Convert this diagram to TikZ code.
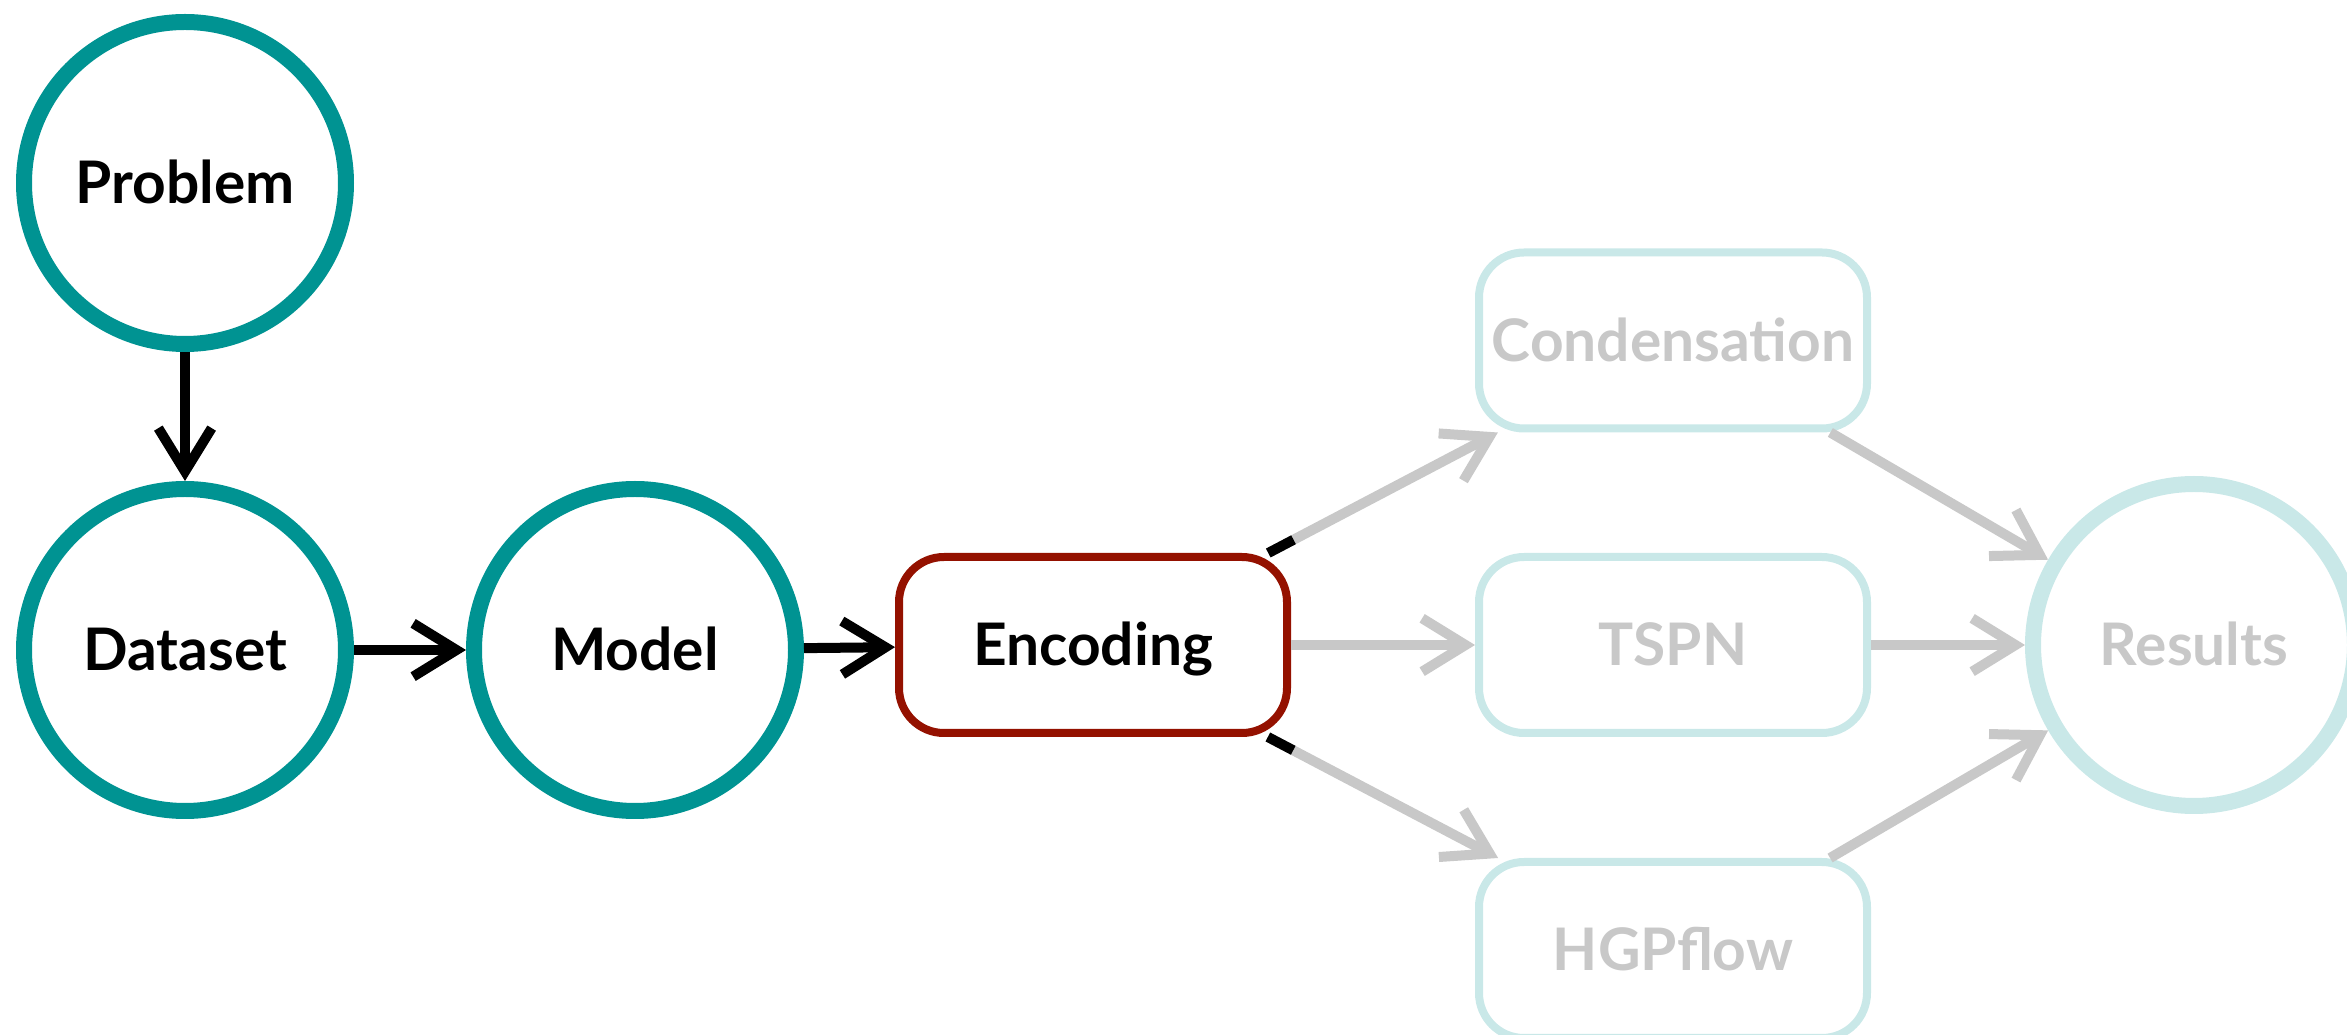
\documentclass[tikz,border=0pt]{standalone}
\usepackage{fontspec}
\setmainfont{Lato}
\usetikzlibrary{arrows.meta}
\definecolor{ringteal}{RGB}{0,147,146}
\definecolor{encred}{RGB}{148,17,0}
\definecolor{palecyan}{RGB}{201,232,232}
\definecolor{fadegray}{RGB}{200,200,200}
\begin{document}
\begin{tikzpicture}[x=0.3pt,y=-0.3pt,
  label font/.style={font=\fontsize{17.6pt}{20pt}\selectfont\bfseries, text height=12.6pt, text depth=0pt},
  stage/.style={circle, draw=ringteal, line width=4.8pt, minimum size=96.6pt,
    inner sep=0pt, fill=white, label font},
  faded stage/.style={stage, draw=palecyan, text=fadegray},
  block/.style={rectangle, rounded corners=13.5pt, line width=2.4pt,
    minimum width=116.4pt, minimum height=52.8pt, inner sep=0pt, fill=white, label font},
  faded block/.style={block, draw=palecyan, text=fadegray},
  flow/.style={line width=3pt, -{Straight Barb[length=13pt, width=16pt]}},
  faded flow/.style={flow, draw=fadegray},
  stub/.style={line width=3pt, draw=black}
]
\clip (0,0) rectangle (2347,1035);

% active pipeline
\node[stage] (problem) at (185,183) {Problem};
\node[stage] (dataset) at (185,650) {Dataset};
\node[stage] (model) at (635,650) {Model};
\node[block, draw=encred] (encoding) at (1093,645) {Encoding};

% downstream options
\node[faded block] (cond) at (1673,340.5) {Condensation};
\node[faded block] (tspn) at (1673,645) {TSPN};
\node[faded block] (hgp) at (1673,950) {HGPflow};
\node[faded stage] (results) at (2194,645) {Results};

% connectors
\draw[flow] (problem) -- (dataset);
\draw[flow] (dataset) -- (model);
\draw[flow] (model) -- (encoding);

\draw[faded flow] (encoding) -- (cond) coordinate[pos=0] (u1) coordinate[pos=0.11] (u2);
\draw[faded flow] (encoding) -- (tspn);
\draw[faded flow] (encoding) -- (hgp) coordinate[pos=0] (d1) coordinate[pos=0.11] (d2);
\draw[stub] (u1) -- (u2);
\draw[stub] (d1) -- (d2);

\draw[faded flow] (cond) -- (results);
\draw[faded flow] (tspn) -- (results);
\draw[faded flow] (hgp) -- (results);
\end{tikzpicture}
\end{document}
